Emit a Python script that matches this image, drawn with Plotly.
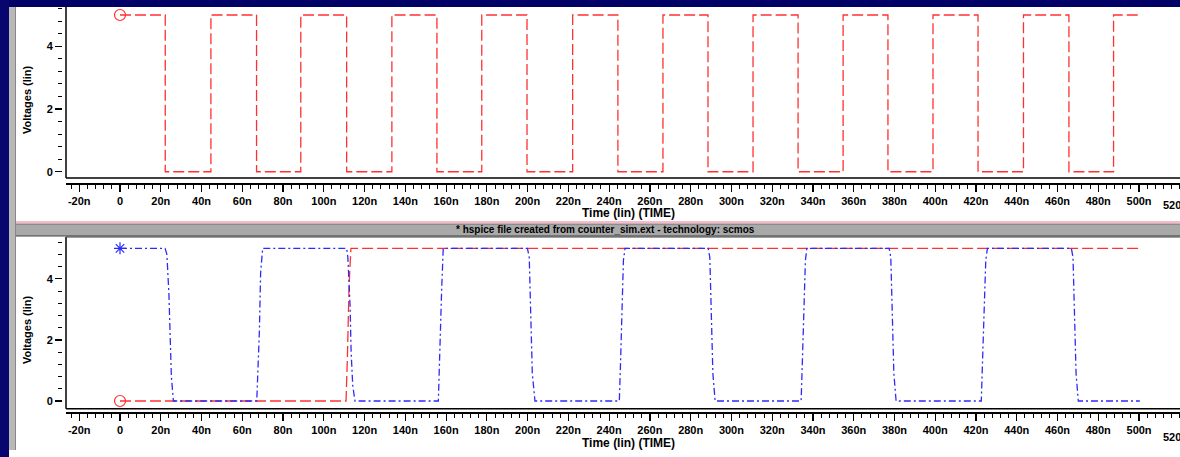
import plotly.graph_objects as go

# ---------------- data (times in ns, voltages in V) ----------------
TOP_T = [0, 22.2, 44.6, 67.0, 88.7, 111.2, 133.4, 155.5, 177.5, 199.7, 222.1, 244.3,
         266.4, 288.5, 310.6, 332.7, 354.8, 376.8, 398.9, 421.0, 443.3, 465.6, 487.5, 500.3]
TOP_V = [5, 0, 5, 0, 5, 0, 5, 0, 5, 0, 5, 0, 5, 0, 5, 0, 5, 0, 5, 0, 5, 0, 5, 5]

BLUE_T = [0, 22.1, 23.0, 24.0, 25.2, 26.2,
          67.1, 67.5, 68.4, 69.0, 70.0,
          111.2, 111.8, 112.9, 113.4, 114.2, 115.3,
          156.2, 157.0, 157.8, 158.6,
          199.9, 200.8, 201.5, 202.3, 203.6,
          245.0, 245.7, 246.2, 247.0, 247.8,
          288.6, 289.4, 290.1, 290.9, 292.0,
          334.2, 334.9, 335.6, 336.3, 337.0,
          377.4, 378.2, 378.9, 379.7, 380.8,
          422.6, 423.3, 424.0, 424.8, 425.6,
          466.8, 467.6, 468.3, 469.1, 470.2,
          500.4]
BLUE_V = [5, 5, 4.8, 3.5, 0.8, 0,
          0, 0.7, 2.3, 4.2, 5,
          5, 4.7, 3.1, 1.6, 0.5, 0,
          0, 2.0, 3.6, 5,
          5, 4.7, 3.0, 0.9, 0,
          0, 1.5, 3.1, 4.6, 5,
          5, 4.7, 3.0, 0.9, 0,
          0, 1.5, 3.1, 4.6, 5,
          5, 4.7, 3.0, 0.9, 0,
          0, 1.5, 3.1, 4.6, 5,
          5, 4.7, 3.0, 0.9, 0,
          0]

RED2_T = [0, 110.9, 111.6, 112.4, 113.3, 500.4]
RED2_V = [0, 0, 1.5, 3.8, 5, 5]

X_TICK_VALS = [-20, 0, 20, 40, 60, 80, 100, 120, 140, 160, 180, 200, 220, 240, 260,
               280, 300, 320, 340, 360, 380, 400, 420, 440, 460, 480, 500]
X_TICK_TEXT = ["-20n", "0", "20n", "40n", "60n", "80n", "100n", "120n", "140n", "160n",
               "180n", "200n", "220n", "240n", "260n", "280n", "300n", "320n", "340n",
               "360n", "380n", "400n", "420n", "440n", "460n", "480n", "500n"]
Y_TICK_VALS = [0, 2, 4]
Y_TICK_TEXT = ["0", "2", "4"]

HEADER = "* hspice file created from counter_sim.ext - technology: scmos"
X_TITLE = "Time (lin) (TIME)"
Y_TITLE = "Voltages (lin)"

# ---------------- geometry helpers ----------------
W, H = 1180, 457
def px(x):
    return x / W
def py(y):
    return 1 - y / H

RED = "#ff3030"
BLUE = "#2b2bff"
FONT = "Liberation Sans"

fig = go.Figure()

# top plot
fig.add_trace(go.Scatter(x=TOP_T, y=TOP_V, mode="lines", line_shape="hv",
                         line=dict(color=RED, width=1.3, dash="11px,4px"),
                         xaxis="x", yaxis="y", hoverinfo="skip"))
fig.add_trace(go.Scatter(x=TOP_T[:1], y=TOP_V[:1], mode="markers",
                         marker=dict(symbol="circle-open", size=11, color=RED, line=dict(width=1.2)),
                         xaxis="x", yaxis="y", hoverinfo="skip"))

# bottom plot
fig.add_trace(go.Scatter(x=RED2_T, y=RED2_V, mode="lines",
                         line=dict(color=RED, width=1.3, dash="11px,4px"),
                         xaxis="x2", yaxis="y2", hoverinfo="skip"))
fig.add_trace(go.Scatter(x=BLUE_T, y=BLUE_V, mode="lines",
                         line=dict(color=BLUE, width=1.3, dash="7px,3px,2px,3px"),
                         xaxis="x2", yaxis="y2", hoverinfo="skip"))
fig.add_trace(go.Scatter(x=RED2_T[:1], y=RED2_V[:1], mode="markers",
                         marker=dict(symbol="circle-open", size=11, color=RED, line=dict(width=1.2)),
                         xaxis="x2", yaxis="y2", hoverinfo="skip"))
fig.add_trace(go.Scatter(x=BLUE_T[:1], y=BLUE_V[:1], mode="markers",
                         marker=dict(symbol="asterisk-open", size=10, color=BLUE, line=dict(width=1.2, color=BLUE)),
                         xaxis="x2", yaxis="y2", hoverinfo="skip"))

tickfont = dict(family=FONT, size=11, color="black", weight="bold")

def xaxis_cfg(pos):
    return dict(domain=[px(66), 1], range=[-26.5, 520.1], anchor="free", position=pos,
                tickmode="array", tickvals=X_TICK_VALS, ticktext=X_TICK_TEXT,
                ticks="outside", ticklen=7, tickwidth=1.2, tickcolor="black",
                minor=dict(tickmode="linear", tick0=0, dtick=4, ticks="outside",
                           ticklen=4, tickwidth=1, tickcolor="black", showgrid=False),
                showline=True, linecolor="black", linewidth=2,
                showgrid=False, zeroline=False, tickfont=tickfont, fixedrange=True)

def yaxis_cfg(dom, rng):
    return dict(domain=dom, range=rng, anchor="free", position=px(62),
                tickmode="array", tickvals=Y_TICK_VALS, ticktext=Y_TICK_TEXT,
                ticks="outside", ticklen=7, tickwidth=1.2, tickcolor="black",
                minor=dict(tickmode="linear", tick0=0, dtick=0.4, ticks="outside",
                           ticklen=4, tickwidth=1, tickcolor="black", showgrid=False),
                showline=False, showgrid=False, zeroline=False, tickfont=tickfont,
                fixedrange=True)

shapes = []
# plot frames
for xr, yr in (("x domain", "y domain"), ("x2 domain", "y2 domain")):
    shapes.append(dict(type="line", xref=xr, yref=yr, x0=0, x1=0, y0=0, y1=1,
                       line=dict(color="black", width=1.5), layer="above"))
    shapes.append(dict(type="line", xref=xr, yref=yr, x0=0, x1=1, y0=0, y1=0,
                       line=dict(color="black", width=1.5), layer="above"))
shapes.append(dict(type="line", xref="x2 domain", yref="y2 domain", x0=0, x1=1, y0=1, y1=1,
                   line=dict(color="#404040", width=1), layer="above"))
# separator band
shapes.append(dict(type="line", xref="paper", yref="paper", x0=px(16), x1=1, y0=py(222), y1=py(222),
                   line=dict(color="#ffb6c8", width=2), layer="above"))
shapes.append(dict(type="rect", xref="paper", yref="paper", x0=px(16), x1=1, y0=py(236), y1=py(224),
                   fillcolor="#a9a9a9", line=dict(width=0), layer="above"))
shapes.append(dict(type="line", xref="paper", yref="paper", x0=px(16), x1=1, y0=py(224), y1=py(224),
                   line=dict(color="#707070", width=1), layer="above"))
shapes.append(dict(type="line", xref="paper", yref="paper", x0=px(16), x1=1, y0=py(236), y1=py(236),
                   line=dict(color="#404040", width=1.2), layer="above"))
# window chrome
shapes.append(dict(type="rect", xref="paper", yref="paper", x0=0, x1=1, y0=py(7), y1=1,
                   fillcolor="#000066", line=dict(width=0), layer="above"))
shapes.append(dict(type="rect", xref="paper", yref="paper", x0=0, x1=px(9), y0=0, y1=1,
                   fillcolor="#06066e", line=dict(width=0), layer="above"))
shapes.append(dict(type="rect", xref="paper", yref="paper", x0=px(9), x1=px(16), y0=py(450), y1=py(7),
                   fillcolor="#b8b8b8", line=dict(width=0), layer="above"))
shapes.append(dict(type="line", xref="paper", yref="paper", x0=px(15.5), x1=px(15.5), y0=py(450), y1=py(7),
                   line=dict(color="#888888", width=1), layer="above"))

titlefont = dict(family=FONT, size=12, color="black", weight="bold")
labfont = dict(family=FONT, size=11, color="black", weight="bold")

def ann(text, x, y, font, xref="paper", angle=0, xshift=0):
    return dict(text=text, xref=xref, yref="paper", x=x, y=y, showarrow=False,
                xanchor="center", yanchor="middle", textangle=angle, font=font,
                xshift=xshift)

annotations = [
    ann(HEADER, px(605), py(230), dict(family=FONT, size=10, color="black", weight="bold")),
    ann(X_TITLE, px(628), py(213), titlefont),
    ann(X_TITLE, px(628), py(443), titlefont),
    ann(Y_TITLE, px(27), py(100), labfont, angle=-90),
    ann(Y_TITLE, px(27), py(330), labfont, angle=-90),
    ann("520n", 520, py(205), tickfont, xref="x", xshift=-4),
    ann("520n", 520, py(437), tickfont, xref="x2", xshift=-4),
]

fig.update_layout(
    width=W, height=H, margin=dict(l=0, r=0, t=0, b=0),
    paper_bgcolor="white", plot_bgcolor="white", showlegend=False,
    hovermode=False,
    xaxis=xaxis_cfg(py(184)),
    yaxis=yaxis_cfg([py(178), py(7)], [-0.2, 5.255]),
    xaxis2=xaxis_cfg(py(412.7)),
    yaxis2=yaxis_cfg([py(408.7), py(237)], [-0.252, 5.37]),
    shapes=shapes, annotations=annotations,
)

fig.write_html("out.html", config={"displayModeBar": False, "staticPlot": True},
               post_script="document.body.style.margin='0';document.body.style.overflow='hidden';")
